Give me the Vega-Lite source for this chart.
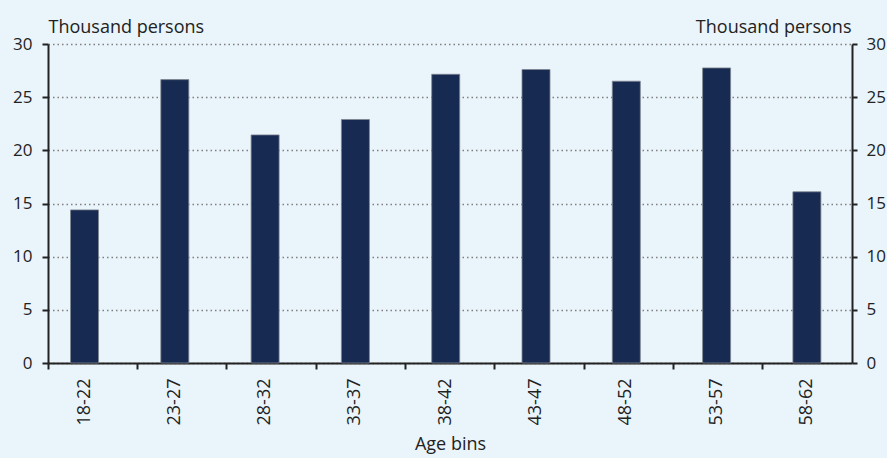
{
  "$schema": "https://vega.github.io/schema/vega-lite/v6.json",
  "width": 804,
  "height": 319,
  "autosize": {"type": "none"},
  "padding": {"left": 48, "top": 44, "right": 35, "bottom": 95},
  "background": "#eaf4fb",
  "config": {"view": {"stroke": null}, "font": "Open Sans"},
  "data": {
    "values": [
      {"age": "18-22", "value": 14.4},
      {"age": "23-27", "value": 26.65},
      {"age": "28-32", "value": 21.45},
      {"age": "33-37", "value": 22.9},
      {"age": "38-42", "value": 27.15},
      {"age": "43-47", "value": 27.6},
      {"age": "48-52", "value": 26.5},
      {"age": "53-57", "value": 27.75},
      {"age": "58-62", "value": 16.1}
    ]
  },
  "layer": [
    {
      "mark": {"type": "bar", "color": "#172a52", "stroke": "#80858f", "strokeWidth": 0.8},
      "encoding": {
        "x": {
          "field": "age", "type": "nominal", "sort": null,
          "scale": {"paddingInner": 0.69, "paddingOuter": 0.297, "align": 0.42},
          "axis": {
            "orient": "bottom",
            "title": "Age bins", "labelAngle": -90, "ticks": false, "domain": true,
            "domainColor": "#222222", "domainWidth": 2, "labelPadding": 15,
            "labelFontSize": 18, "labelColor": "#222222", "titleFontSize": 18,
            "titleFontWeight": "normal", "titleColor": "#222222", "titlePadding": 11, "grid": false
          }
        },
        "y": {
          "field": "value", "type": "quantitative", "scale": {"domain": [0, 30]},
          "axis": {
            "orient": "left", "values": [0, 5, 10, 15, 20, 25, 30], "grid": true,
            "gridDash": [1.5, 3], "gridColor": "#7f7f7f", "gridWidth": 1.3,
            "domainColor": "#222222", "domainWidth": 2, "tickColor": "#222222", "tickWidth": 2,
            "tickSize": 6, "labelPadding": 10, "labelFontSize": 17, "labelColor": "#222222",
            "title": "Thousand persons", "titleAngle": 0, "titleAlign": "left",
            "titleBaseline": "alphabetic", "titleX": 0, "titleY": -12, "titleFontSize": 18,
            "titleFontWeight": "normal", "titleColor": "#222222"
          }
        }
      }
    },
    {
      "mark": {"type": "bar", "opacity": 0},
      "encoding": {
        "x": {
          "field": "age", "type": "nominal", "sort": null,
          "scale": {"paddingInner": 0, "paddingOuter": 0},
          "axis": {
            "orient": "bottom",
            "bandPosition": 0, "labels": false, "title": null, "domain": false, "ticks": true,
            "tickSize": 6, "tickWidth": 2, "tickColor": "#222222", "grid": false
          }
        },
        "y": {
          "field": "value", "type": "quantitative", "scale": {"domain": [0, 30]},
          "axis": {
            "orient": "right", "values": [0, 5, 10, 15, 20, 25, 30], "grid": false,
            "domainColor": "#222222", "domainWidth": 2, "tickColor": "#222222", "tickWidth": 2,
            "tickSize": 5, "labelPadding": 9, "labelFontSize": 17, "labelColor": "#222222",
            "title": "Thousand persons", "titleAngle": 0, "titleAlign": "right",
            "titleBaseline": "alphabetic", "titleX": -1, "titleY": -12, "titleFontSize": 18,
            "titleFontWeight": "normal", "titleColor": "#222222"
          }
        }
      }
    }
  ],
  "resolve": {
    "scale": {"x": "independent"},
    "axis": {"x": "independent", "y": "independent"}
  }
}
